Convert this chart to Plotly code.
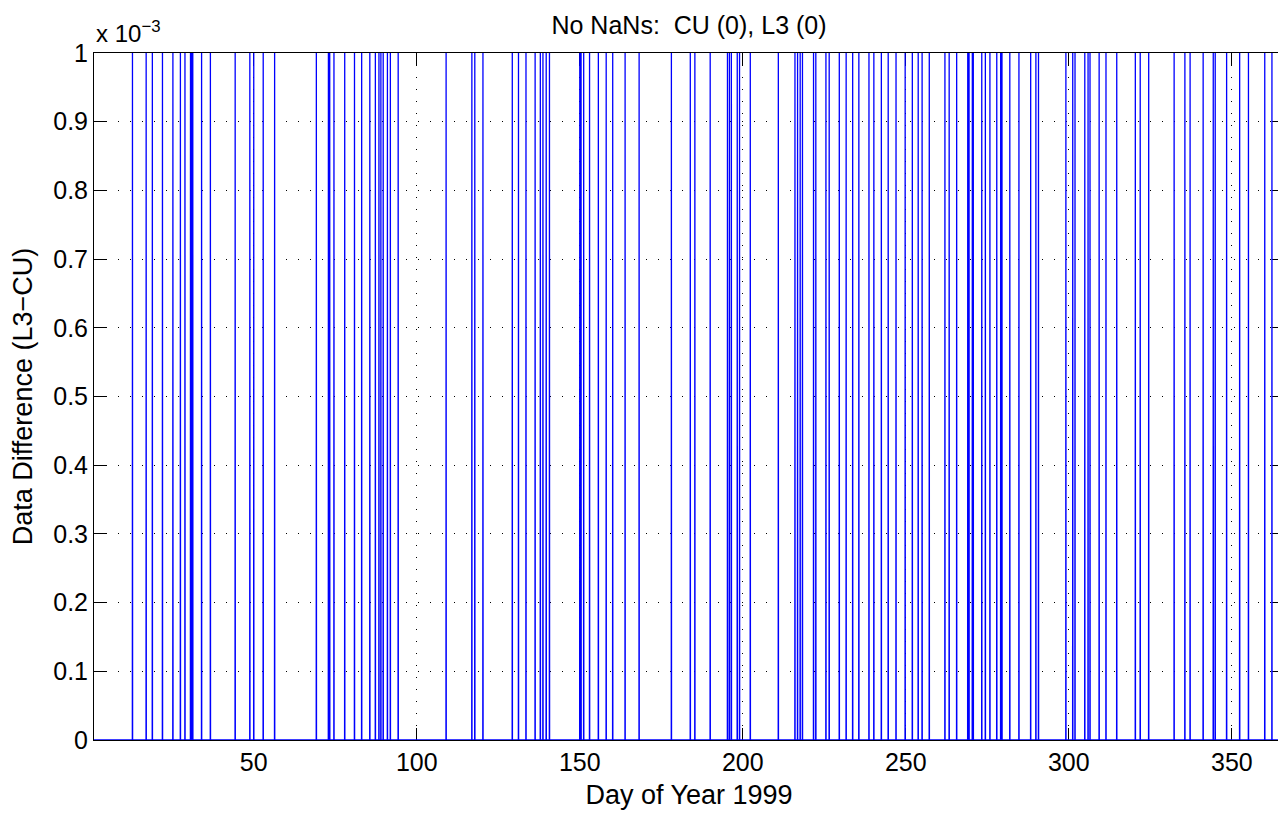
import plotly.graph_objects as go

# Days (of 1999) at which the L3-CU difference equals 1e-3; otherwise 0
spike_days = [12.8, 17.0, 18.9, 22.0, 25.2, 27.5, 28.9, 30.6, 31.0, 31.3, 34.0, 36.7,
              44.3, 48.8, 50.0, 52.9, 56.4, 69.2, 72.9, 73.3, 74.6, 77.9, 80.9, 83.1,
              85.6, 87.3, 88.4, 89.0, 89.7, 91.0, 91.9, 94.3, 109.0, 116.9, 117.8, 120.3,
              129.3, 131.2, 133.5, 136.3, 137.9, 138.7, 139.7, 140.7, 150.0, 150.4, 151.2,
              153.0, 155.7, 158.1, 160.1, 163.9, 168.2, 178.1, 183.9, 185.3, 190.0, 195.3,
              195.9, 196.5, 198.3, 199.0, 202.3, 210.9, 216.0, 216.8, 217.6, 218.3, 221.7,
              222.4, 225.5, 226.5, 229.6, 231.7, 233.7, 235.6, 238.7, 240.2, 242.5, 244.6,
              247.0, 249.8, 252.0, 253.8, 255.0, 257.2, 262.0, 263.3, 265.6, 269.0, 269.4,
              270.4, 270.7, 273.3, 274.4, 275.8, 277.9, 279.1, 279.5, 281.9, 284.7, 288.3,
              289.9, 290.7, 299.1, 301.2, 301.9, 304.9, 305.9, 306.5, 309.3, 311.4, 314.7,
              320.4, 321.9, 324.5, 332.3, 335.6, 337.2, 341.2, 344.3, 344.9, 348.4, 352.4,
              355.1, 360.1, 362.3]
spike_value = 1e-3
day_start, day_end = 1.0, 366.0
sample_step = 1.0 / 24.0  # hourly samples

x_ticks = [50, 100, 150, 200, 250, 300, 350]
y_tick_labels = ["0", "0.1", "0.2", "0.3", "0.4", "0.5", "0.6", "0.7", "0.8", "0.9", "1"]
y_tick_vals = [i * 1e-4 for i in range(11)]

xs, ys = [day_start], [0.0]
for d in spike_days:
    xs += [d - sample_step, d, d + sample_step]
    ys += [0.0, spike_value, 0.0]
xs.append(day_end)
ys.append(0.0)

font = "Liberation Sans, Arial, Helvetica, sans-serif"
FS = 25
FL = 27

fig = go.Figure()
fig.add_trace(go.Scatter(x=xs, y=ys, mode="lines",
                         line=dict(color="#0000FF", width=1.3),
                         hoverinfo="skip", showlegend=False))

W, H = 1286, 813
L, R, T, B = 86, 10, 45, 81
fig.update_layout(
    width=W, height=H,
    margin=dict(l=L, r=R, t=T, b=B, autoexpand=False),
    paper_bgcolor="white", plot_bgcolor="white",
    font=dict(family=font, size=FS, color="black"),
    title=dict(text="No NaNs:  CU (0), L3 (0)", x=((L + (W - R)) / 2) / W, xanchor="center",
               y=1 - 17 / H, yanchor="middle", font=dict(size=FS)),
    showlegend=False,
)
fig.update_xaxes(
    range=[day_start, day_end], tickvals=x_ticks, ticktext=[str(v) for v in x_ticks],
    showline=True, linecolor="black", linewidth=1, mirror="ticks",
    ticks="inside", ticklen=12, tickcolor="black",
    showgrid=True, gridcolor="black", gridwidth=1, griddash="1px,11px",
    zeroline=False, layer="below traces", automargin=False,
    title=dict(text="Day of Year 1999", font=dict(size=FL), standoff=10),
    tickfont=dict(size=FS),
)
fig.update_yaxes(
    range=[0, spike_value], tickvals=y_tick_vals, ticktext=y_tick_labels,
    showline=True, linecolor="black", linewidth=1, mirror="ticks",
    ticks="inside", ticklen=12, tickcolor="black",
    showgrid=True, gridcolor="black", gridwidth=1, griddash="1px,11px",
    zeroline=False, layer="below traces", automargin=False,
    title=dict(text="Data Difference (L3\u2212CU)", font=dict(size=FL), standoff=20),
    tickfont=dict(size=FS),
)
fig.add_annotation(text="x 10<sup>\u22123</sup>", xref="paper", yref="paper",
                   x=0, y=1, xanchor="left", yanchor="bottom", yshift=4,
                   showarrow=False, font=dict(size=FS - 1, family=font))

fig.write_html("out.html")
